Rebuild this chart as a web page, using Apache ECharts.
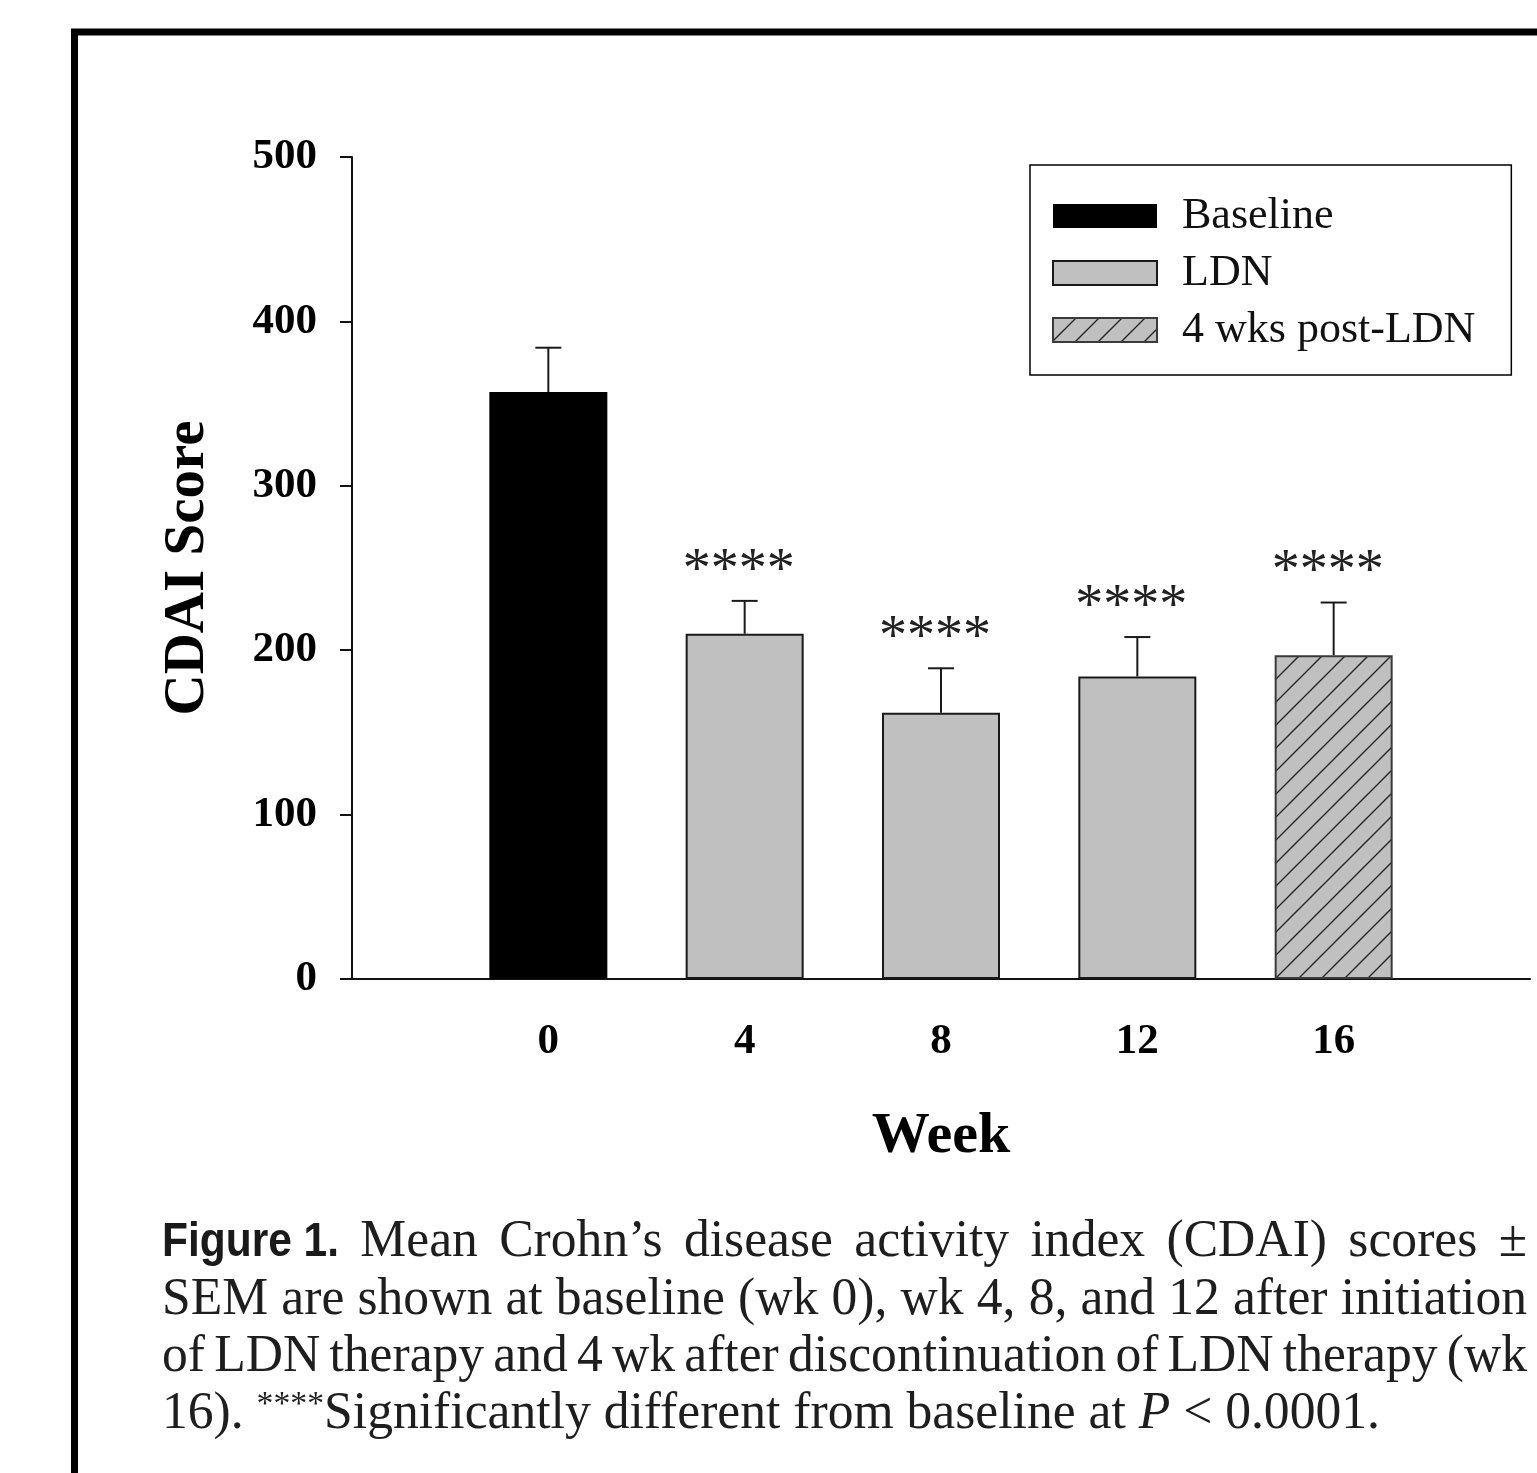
<!DOCTYPE html>
<html><head><meta charset="utf-8">
<script src="https://cdn.jsdelivr.net/npm/echarts@6/dist/echarts.min.js"></script>
<style>html,body{margin:0;padding:0;background:#fff}#c{width:1537px;height:1473px}</style>
</head><body><div id="c"></div>
<script>
// ---------- data ----------
const weeks = [0, 4, 8, 12, 16];
const meanCDAI = [357, 210, 162, 184, 197];
const semCDAI = [27, 20, 27, 24, 32];
const phase = ['Baseline', 'LDN', 'LDN', 'LDN', '4 wks post-LDN'];
const significance = ['', '****', '****', '****', '****'];
const seriesNames = ['Baseline', 'LDN', '4 wks post-LDN'];
const xTickLabels = ['0', '4', '8', '12', '16'];
const yAxisTitle = 'CDAI Score';
const xAxisTitle = 'Week';
const captionLine1 = ['Figure 1.', 'Mean', 'Crohn’s', 'disease', 'activity', 'index', '(CDAI)', 'scores', '±'];
const captionLine2 = ['SEM', 'are', 'shown', 'at', 'baseline', '(wk', '0),', 'wk', '4,', '8,', 'and', '12', 'after', 'initiation'];
const captionLine3 = ['of', 'LDN', 'therapy', 'and', '4', 'wk', 'after', 'discontinuation', 'of', 'LDN', 'therapy', '(wk'];
const captionLine4 = ['16). ', '****', 'Significantly different from baseline at ', 'P', ' < 0.0001.'];

// ---------- styles ----------
const SERIF = "'Liberation Serif', 'Times New Roman', serif";

function hatchCanvas() {
  const s = 23, c = document.createElement('canvas');
  c.width = s; c.height = s;
  const g = c.getContext('2d');
  g.fillStyle = '#c0c0c0'; g.fillRect(0, 0, s, s);
  g.strokeStyle = '#262626'; g.lineWidth = 1.4;
  g.beginPath();
  g.moveTo(-2, s + 2); g.lineTo(s + 2, -2);
  g.moveTo(-3, 3); g.lineTo(3, -3);
  g.moveTo(s - 3, s + 3); g.lineTo(s + 3, s - 3);
  g.stroke();
  return c;
}
const hatchFill = { image: hatchCanvas(), repeat: 'repeat' };

function seriesStyle(name) {
  if (name === 'Baseline') return { color: '#000', borderColor: '#000', borderWidth: 0 };
  if (name === 'LDN') return { color: '#c0c0c0', borderColor: '#1a1a1a', borderWidth: 2 };
  return { color: hatchFill, borderColor: '#3a3a3a', borderWidth: 2 };
}

const barSeries = seriesNames.map(name => ({
  name: name,
  type: 'bar',
  barWidth: 118,
  barGap: '-100%',
  itemStyle: seriesStyle(name),
  data: weeks.map((w, i) => phase[i] === name ? [w, meanCDAI[i]] : null).filter(d => d),
  z: 2
}));

const errSeries = {
  type: 'custom',
  z: 5,
  silent: true,
  data: weeks.map((w, i) => [w, meanCDAI[i], semCDAI[i]]),
  renderItem: function (params, api) {
    const x = api.value(0), m = api.value(1), e = api.value(2);
    const p0 = api.coord([x, m]);
    const p1 = api.coord([x, m + e]);
    const children = [
      { type: 'line', shape: { x1: p0[0], y1: p0[1], x2: p1[0], y2: p1[1] }, style: { stroke: '#1a1a1a', lineWidth: 2 } },
      { type: 'line', shape: { x1: p1[0] - 13, y1: p1[1], x2: p1[0] + 13, y2: p1[1] }, style: { stroke: '#1a1a1a', lineWidth: 2 } }
    ];
    const sig = significance[params.dataIndex];
    if (sig) {
      children.push({ type: 'text', x: p1[0] - 6, y: p1[1] - 29,
        style: { text: sig, font: '56px ' + SERIF, fill: '#222', align: 'center', verticalAlign: 'middle' } });
    }
    return { type: 'group', children: children };
  }
};

// ---------- caption layout ----------
const mctx = document.createElement('canvas').getContext('2d');
function measure(t, font) { mctx.font = font; return mctx.measureText(t).width; }
const capPx = 52;
const fontN = capPx + 'px ' + SERIF;
const fontI = 'italic ' + capPx + 'px ' + SERIF;
const fontFig = "bold 49px 'Liberation Sans', Arial, sans-serif";
const fontSup = '34px ' + SERIF;
const capLeft = 162, capRight = 1527, line4Right = 1380;
const baselines = [1260, 1318, 1375, 1432];
const midOff = 17.5;
const capFill = '#1e1e1e';
const graphics = [];

const l4fonts = [fontN, fontSup, fontN, fontI, fontN];
let l4W = 0;
captionLine4.forEach((t, i) => { l4W += measure(t, l4fonts[i]); });
const baseScale = (line4Right - capLeft) / l4W;
{
  let x = capLeft;
  captionLine4.forEach((t, i) => {
    const sup = l4fonts[i] === fontSup;
    graphics.push({ type: 'text', x: x, y: sup ? baselines[3] - 27 : baselines[3] - midOff, scaleX: baseScale,
      style: { text: t, font: l4fonts[i], fill: capFill, align: 'left', verticalAlign: 'middle' } });
    x += measure(t, l4fonts[i]) * baseScale;
  });
}
const figScale = 177 / measure('Figure 1.', fontFig);
[captionLine1, captionLine2, captionLine3].forEach((words, li) => {
  const isFig = (w, i) => li === 0 && i === 0;
  let nat = 0, fixed = 0;
  words.forEach((w, i) => { if (isFig(w, i)) fixed += 177; else nat += measure(w, fontN); });
  const n = words.length - 1;
  let s = baseScale;
  let gap = (capRight - capLeft - fixed - nat * s) / n;
  if (gap < 7) { gap = 7; s = (capRight - capLeft - fixed - gap * n) / nat; }
  let x = capLeft;
  words.forEach((w, i) => {
    if (isFig(w, i)) {
      graphics.push({ type: 'text', x: x, y: baselines[li] - midOff, scaleX: figScale,
        style: { text: w, font: fontFig, fill: '#1a1a1a', align: 'left', verticalAlign: 'middle' } });
      x += 177 + gap;
    } else {
      const ww = measure(w, fontN) * s;
      const last = i === words.length - 1;
      graphics.push({ type: 'text', x: last ? capRight - ww : x, y: baselines[li] - midOff, scaleX: s,
        style: { text: w, font: fontN, fill: capFill, align: 'left', verticalAlign: 'middle' } });
      x += ww + gap;
    }
  });
});
graphics.push({ type: 'rect', z: -10, shape: { x: 74.5, y: 32, width: 2000, height: 2000 },
  style: { fill: 'none', stroke: '#000', lineWidth: 7 } });

// ---------- chart ----------
const chart = echarts.init(document.getElementById('c'), null, { renderer: 'canvas' });
chart.setOption({
  animation: false,
  backgroundColor: '#fff',
  grid: { left: 352, right: 7, top: 157, bottom: 1473 - 979, containLabel: false },
  legend: {
    orient: 'vertical', left: 1030, top: 165,
    padding: [29, 36, 23, 22],
    itemWidth: 104, itemHeight: 24, itemGap: 13,
    borderColor: '#000', borderWidth: 1.5, borderRadius: 0,
    icon: 'rect',
    textStyle: { fontFamily: SERIF, fontSize: 44, color: '#111', padding: [0, 0, 0, 20] },
    data: seriesNames,
    selectedMode: false
  },
  xAxis: {
    type: 'value', min: -4, max: 20, interval: 4,
    name: xAxisTitle, nameLocation: 'middle', nameGap: 129,
    nameTextStyle: { fontFamily: SERIF, fontWeight: 'bold', fontSize: 58, color: '#000' },
    axisLine: { show: true, onZero: false, lineStyle: { color: '#111', width: 2 } },
    axisTick: { show: false },
    splitLine: { show: false },
    axisLabel: {
      margin: 41, fontFamily: SERIF, fontWeight: 'bold', fontSize: 43, color: '#000',
      formatter: v => { const i = weeks.indexOf(v); return i >= 0 ? xTickLabels[i] : ''; }
    }
  },
  yAxis: {
    type: 'value', min: 0, max: 500, interval: 100,
    name: yAxisTitle, nameLocation: 'middle', nameGap: 135,
    nameTextStyle: { fontFamily: SERIF, fontWeight: 'bold', fontSize: 57, color: '#000' },
    axisLine: { show: true, onZero: false, lineStyle: { color: '#111', width: 2 } },
    axisTick: { show: true, inside: false, length: 12, lineStyle: { color: '#111', width: 2 } },
    splitLine: { show: false },
    axisLabel: { margin: 35, fontFamily: SERIF, fontWeight: 'bold', fontSize: 43, color: '#000' }
  },
  series: barSeries.concat([errSeries]),
  graphic: graphics
});
</script>
</body></html>
